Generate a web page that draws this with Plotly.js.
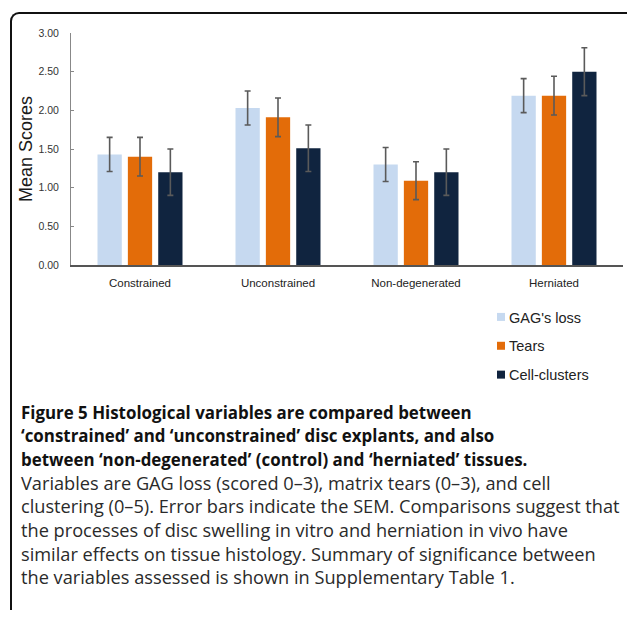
<!DOCTYPE html>
<html>
<head>
<meta charset="utf-8">
<script src="https://cdn.plot.ly/plotly-3.0.1.min.js"></script>
<style>
html,body{margin:0;padding:0;background:#fff;}
#wrap{position:relative;width:627px;height:617px;overflow:hidden;}
#chart{position:absolute;left:0;top:0;width:627px;height:617px;}
#frame{position:absolute;left:10px;top:12px;width:640px;height:596px;border-top:2.5px solid #111;border-left:2.5px solid #111;border-top-left-radius:9px;pointer-events:none;}
</style>
</head>
<body>
<div id="wrap">
<div id="chart"></div>
<div id="frame"></div>
</div>
<script>
const categories = ["Constrained", "Unconstrained", "Non-degenerated", "Herniated"];
const seriesNames = ["GAG's loss", "Tears", "Cell-clusters"];
const gagLoss = [1.43, 2.03, 1.30, 2.19];
const gagErr = [0.22, 0.22, 0.22, 0.22];
const tears = [1.40, 1.91, 1.09, 2.19];
const tearsErr = [0.25, 0.25, 0.245, 0.25];
const cellClusters = [1.20, 1.51, 1.20, 2.50];
const cellErr = [0.30, 0.30, 0.30, 0.31];
const yTicks = [0, 0.5, 1.0, 1.5, 2.0, 2.5, 3.0];
const colors = ["#c6d9f0", "#e36c09", "#10243f"];

const captionBold = [
  "Figure 5 Histological variables are compared between",
  "\u2018constrained\u2019 and \u2018unconstrained\u2019 disc explants, and also",
  "between \u2018non-degenerated\u2019 (control) and \u2018herniated\u2019 tissues."
];
const captionText = [
  "Variables are GAG loss (scored 0\u20133), matrix tears (0\u20133), and cell",
  "clustering (0\u20135). Error bars indicate the SEM. Comparisons suggest that",
  "the processes of disc swelling in vitro and herniation in vivo have",
  "similar effects on tissue histology. Summary of significance between",
  "the variables assessed is shown in Supplementary Table 1."
];

const values = [gagLoss, tears, cellClusters];
const errs = [gagErr, tearsErr, cellErr];

// pixel geometry of the plot area
const W = 627, H = 617;
const L = 71, R = 4, T = 33, B = 352;
const pw = W - L - R, ph = H - T - B;
const px = x => (x - L) / pw;
const py = y => (H - B - y) / ph;

const traces = [];
seriesNames.forEach((name, i) => {
  traces.push({
    type: "bar",
    name: name,
    x: categories,
    y: values[i],
    marker: {color: colors[i]},
    error_y: {type: "data", array: errs[i], visible: true, color: "#5a5a5a", thickness: 1.6, width: 3},
    showlegend: false,
    hoverinfo: "y"
  });
});
seriesNames.forEach((name, i) => {
  traces.push({
    type: "scatter",
    mode: "markers",
    name: name,
    x: [null], y: [null],
    marker: {symbol: "square", size: 8, color: colors[i]},
    showlegend: true,
    legendgroup: "g" + i
  });
});

const annotations = [];
const lineY0 = 412, lineStep = 23.6;
captionBold.forEach((t, i) => {
  annotations.push({
    text: "<b>" + t + "</b>", xref: "paper", yref: "paper",
    x: px(19), y: py(lineY0 + i * lineStep), xanchor: "left", yanchor: "middle",
    showarrow: false, align: "left",
    font: {family: "Open Sans", size: 16.9, color: "#111"}
  });
});
captionText.forEach((t, i) => {
  annotations.push({
    text: t, xref: "paper", yref: "paper",
    x: px(19), y: py(lineY0 + (i + 3) * lineStep), xanchor: "left", yanchor: "middle",
    showarrow: false, align: "left",
    font: {family: "Open Sans", size: 18.2, color: "#2a2a2a"}
  });
});

const layout = {
  width: W, height: H,
  margin: {l: L, r: R, t: T, b: B, pad: 0},
  paper_bgcolor: "rgba(0,0,0,0)",
  plot_bgcolor: "rgba(0,0,0,0)",
  barmode: "group",
  bargap: 0.34,
  bargroupgap: 0.2,
  font: {family: "Liberation Sans, Arial", color: "#222"},
  xaxis: {
    type: "category",
    range: [-0.5, 3.5],
    showline: true, linecolor: "#555", linewidth: 1.5,
    ticks: "", showgrid: false, zeroline: false,
    tickfont: {family: "Liberation Sans, Arial", size: 11.5, color: "#222"},
    ticklabelstandoff: 7,
    automargin: false
  },
  yaxis: {
    range: [0, 3],
    tickvals: yTicks,
    tickformat: ".2f",
    showline: true, linecolor: "#888", linewidth: 1,
    ticks: "inside", ticklen: 3, tickcolor: "#888",
    showgrid: false, zeroline: false,
    tickfont: {family: "Liberation Sans, Arial", size: 10.5, color: "#333"},
    ticklabelstandoff: 9,
    title: {text: "Mean Scores", font: {family: "Liberation Sans, Arial", size: 18, color: "#1a1a1a"}, standoff: 1},
    automargin: false
  },
  showlegend: true,
  legend: {
    x: px(481), y: py(301), xanchor: "left", yanchor: "top",
    font: {family: "Liberation Sans, Arial", size: 14.5, color: "#222"},
    tracegroupgap: 7,
    itemwidth: 30,
    bgcolor: "rgba(0,0,0,0)"
  },
  annotations: annotations
};

Plotly.newPlot("chart", traces, layout, {displayModeBar: false, staticPlot: true}).then(gd => {
  // tighten the gap between legend swatch and label, as in the reference
  gd.querySelectorAll(".legend .legendtext").forEach(t => {
    t.setAttribute("x", "28");
  });
});
</script>
</body>
</html>
